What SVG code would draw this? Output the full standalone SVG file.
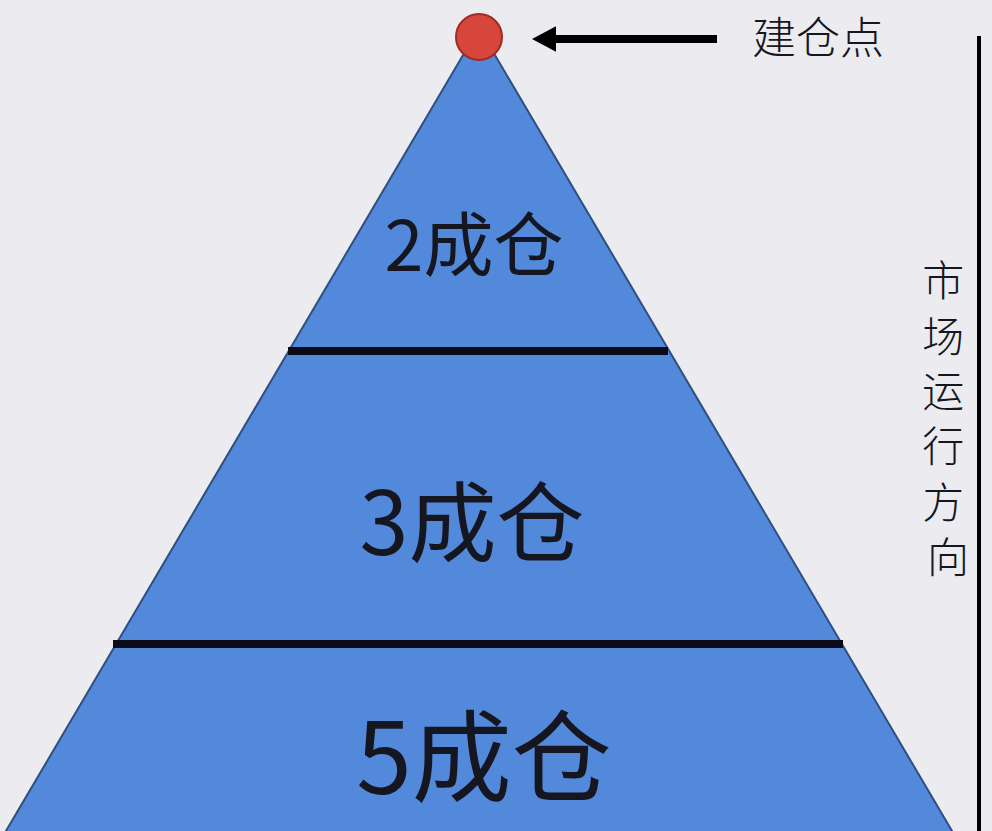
<svg xmlns="http://www.w3.org/2000/svg" width="992" height="831" viewBox="0 0 992 831">
<style>
.lbl{font-family:"Noto Sans CJK SC","Noto Sans",sans-serif;fill:#161620;text-anchor:middle}
.div{stroke:#0b0b18;stroke-width:8;stroke-linecap:butt}
</style>
<defs>
<marker id="ah" markerWidth="4" markerHeight="4" refX="0" refY="2" orient="auto" markerUnits="strokeWidth">
<path d="M3,2 L0,0.4 L0,3.6 Z" fill="#000"/>
</marker>
</defs>
<rect width="992" height="831" fill="#ebebf0"/>
<g id="pyramid">
<polygon points="479,28 3,836 955,836" fill="#5289db" stroke="#2f4f80" stroke-width="2"/>
</g>
<g id="connectors">
<line class="div" x1="288" y1="351" x2="668" y2="351"/>
<line class="div" x1="113" y1="644" x2="843" y2="644"/>
<line x1="717" y1="39" x2="556" y2="39" stroke="#000" stroke-width="8" marker-end="url(#ah)"/>
<line x1="979" y1="36" x2="979" y2="831" stroke="#000" stroke-width="4"/>
</g>
<g id="point">
<circle cx="479" cy="37" r="23" fill="#d6463b" stroke="#a02a24" stroke-width="2"/>
</g>
<g id="label-point"><text class="lbl" x="818" y="54" font-size="44" font-weight="300">建仓点</text></g>
<g id="tier2"><text class="lbl" x="474" y="271" font-size="70">2成仓</text></g>
<g id="tier3"><text class="lbl" x="472" y="555" font-size="88">3成仓</text></g>
<g id="tier5"><text class="lbl" x="484" y="794" font-size="100">5成仓</text></g>
<g id="direction">
<text class="lbl" font-size="42" font-weight="300" x="948">
<tspan x="948" y="296">市</tspan>
<tspan x="948" y="352">场</tspan>
<tspan x="948" y="407">运</tspan>
<tspan x="948" y="462">行</tspan>
<tspan x="948" y="518">方</tspan>
<tspan x="948" y="573">向</tspan>
</text>
</g>
</svg>
